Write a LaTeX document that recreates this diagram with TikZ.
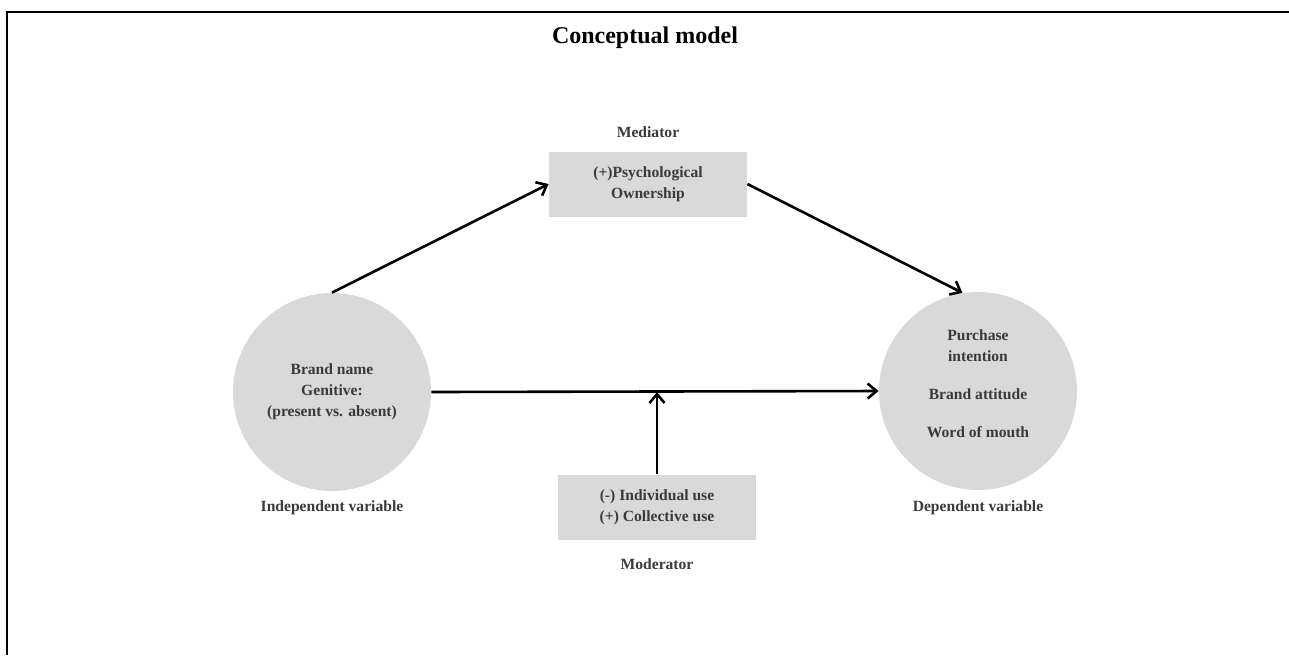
\documentclass[tikz,border=0pt]{standalone}
\usepackage{fontspec}
\setmainfont{Liberation Serif}
\usetikzlibrary{arrows.meta}

\definecolor{boxgrey}{HTML}{D9D9D9}
\definecolor{textgrey}{HTML}{3A3A3A}

\begin{document}
\begin{tikzpicture}[x=0.5pt, y=-0.5pt,
  lbl/.style={text=textgrey, font=\fontsize{7.8}{10.5}\selectfont\bfseries, align=center},
  varcircle/.style={lbl, circle, fill=boxgrey, minimum size=99pt, inner sep=0pt},
  varbox/.style={lbl, rectangle, fill=boxgrey, minimum width=99pt, minimum height=32.5pt, inner sep=0pt},
  link/.style={line width=1.3pt, -{Straight Barb[length=4.5pt, width=7.5pt, line width=1.3pt]}}]

\useasboundingbox (0,0) rectangle (1289,655);

\draw [line width=1pt] (7,655) -- (7,12) -- (1289,12);

\coordinate (T) at (645,38);
\coordinate (A) at (332,392);
\coordinate (B) at (978,391);
\coordinate (C) at (648,184);
\coordinate (D) at (657,507);

\node [font=\fontsize{12}{14}\selectfont\bfseries] (title) at (T) {Conceptual model};

\node [varcircle] (iv) at (A) {Brand name\\Genitive:\\(present vs. absent)};
\node [varcircle] (dv) at (B) {};
\node [lbl] (dvtext) at ([yshift=3.5pt]dv.center) {Purchase\\intention\\[8.5pt]Brand attitude\\[8.5pt]Word of mouth};
\node [varbox] (med) at (C) {(+)Psychological\\Ownership};
\node [varbox] (mod) at (D) {(-) Individual use\\(+) Collective use};

\node [lbl] (medlbl) at (648,132) {Mediator};
\node [lbl] (modlbl) at (657,564) {Moderator};
\node [lbl] (ivlbl) at (332,508) {Independent variable};
\node [lbl] (dvlbl) at (978,508) {Dependent variable};

\draw [link] (iv.north) -- (med.west);
\draw [link] (med.east) -- (dv.99);
\draw [link] (iv.east) -- (dv.west);
\draw [link] (mod.north) -- (mod.north |- iv.east);

\end{tikzpicture}
\end{document}
